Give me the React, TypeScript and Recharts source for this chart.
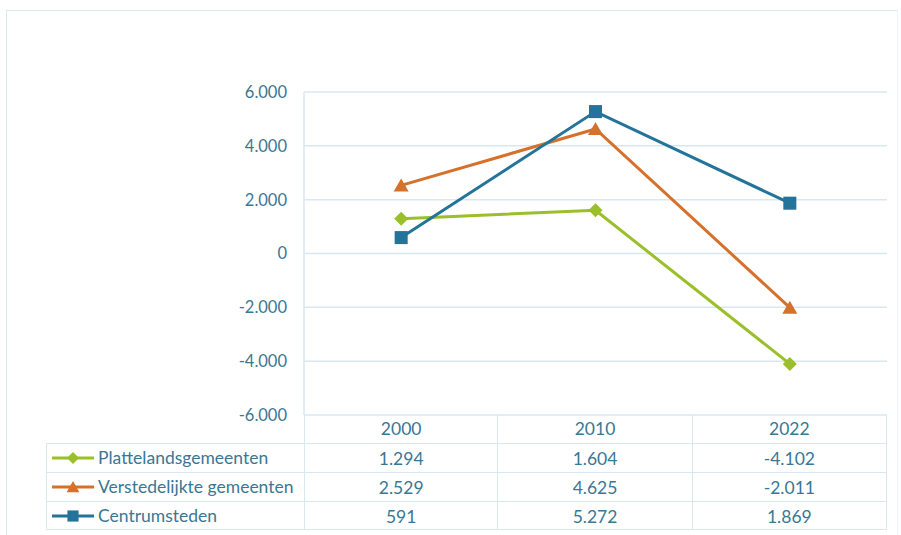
import { LineChart, Line, XAxis, YAxis, CartesianGrid } from 'recharts';

const years = ['2000', '2010', '2022'];
const platteland = [1294, 1604, -4102];
const verstedelijkt = [2529, 4625, -2011];
const centrumsteden = [591, 5272, 1869];
const yTicks = [-6000, -4000, -2000, 0, 2000, 4000, 6000];

const seriesInfo = [
  { key: 'platteland', name: 'Plattelandsgemeenten', color: '#9bbf2a', shape: 'diamond', values: platteland },
  { key: 'verstedelijkt', name: 'Verstedelijkte gemeenten', color: '#d5712b', shape: 'triangle', values: verstedelijkt },
  { key: 'centrum', name: 'Centrumsteden', color: '#23739a', shape: 'square', values: centrumsteden },
];

const chartData = years.map((year, i) => ({
  year,
  platteland: platteland[i],
  verstedelijkt: verstedelijkt[i],
  centrum: centrumsteden[i],
}));

const TEXT = '#3a7793';
const GRID = '#d9e8f0';
const FONT = 'Lato, "Open Sans", sans-serif';
const TABLE_FONT = 17.5;

// dutch style thousands separator
const fmt = (v: number) => {
  const s = Math.abs(v).toString().replace(/\B(?=(\d{3})+(?!\d))/g, '.');
  return v < 0 ? '-' + s : s;
};

const Marker = ({ shape, color, cx, cy, r = 7 }: { shape: string; color: string; cx: number; cy: number; r?: number }) => {
  if (shape === 'diamond') {
    return <path d={`M${cx},${cy - r}L${cx + r},${cy}L${cx},${cy + r}L${cx - r},${cy}Z`} fill={color} />;
  }
  if (shape === 'triangle') {
    return <path d={`M${cx},${cy - r}L${cx + r * 1.07},${cy + r * 0.86}L${cx - r * 1.07},${cy + r * 0.86}Z`} fill={color} />;
  }
  return <rect x={cx - r * 0.93} y={cy - r * 0.93} width={r * 1.86} height={r * 1.86} fill={color} />;
};

const makeDot = (shape: string, color: string) => (props: any) => {
  const { cx, cy, index } = props;
  if (cx == null || cy == null) return <g key={index} />;
  return (
    <g key={`${shape}-${index}`}>
      <Marker shape={shape} color={color} cx={cx} cy={cy} />
    </g>
  );
};

const PLOT_LEFT = 304;
const PLOT_RIGHT = 887;
const COL_W = (PLOT_RIGHT - PLOT_LEFT) / 3;
const TABLE_TOP = 415;
const HEADER_H = 28;
const ROW_H = 29;

const cell = (left: number, top: number, width: number, height: number, extra: any = {}) => ({
  position: 'absolute' as const,
  left,
  top,
  width,
  height,
  lineHeight: `${height}px`,
  textAlign: 'center' as const,
  ...extra,
});

const App = () => {
  return (
    <div style={{ position: 'fixed', left: 0, top: 0, width: 901, height: 535, background: '#fff', fontFamily: FONT, overflow: 'hidden' }}>
      <div style={{ position: 'absolute', left: 6, top: 10, width: 890, height: 540, borderTop: `1px solid ${GRID}`, borderLeft: `1px solid ${GRID}`, borderRight: `1px solid #eef5f9` }} />
      <LineChart width={901} height={535} data={chartData} margin={{ top: 92, right: 14, bottom: 120, left: 0 }}>
        <CartesianGrid vertical={false} stroke={GRID} strokeWidth={1.5} />
        <XAxis dataKey="year" hide padding={{ left: COL_W / 2, right: COL_W / 2 }} />
        <YAxis
          width={PLOT_LEFT}
          domain={[-6000, 6000]}
          ticks={yTicks}
          tickFormatter={fmt}
          axisLine={{ stroke: GRID, strokeWidth: 1.5 }}
          tickLine={false}
          tickMargin={11}
          tick={{ fill: TEXT, fontSize: 16.5, fontFamily: FONT }}
        />
        {seriesInfo.map((s) => (
          <Line
            key={s.key}
            dataKey={s.key}
            name={s.name}
            stroke={s.color}
            strokeWidth={3}
            dot={makeDot(s.shape, s.color)}
            activeDot={false}
            isAnimationActive={false}
          />
        ))}
      </LineChart>

      {/* data table under the plot */}
      {years.map((y, i) => (
        <div
          key={y}
          style={cell(PLOT_LEFT + i * COL_W, TABLE_TOP, COL_W, HEADER_H, {
            color: TEXT,
            fontSize: TABLE_FONT,
            borderRight: `1.5px solid ${GRID}`,
            borderLeft: i === 0 ? `1.5px solid ${GRID}` : undefined,
            boxSizing: 'border-box',
          })}
        >
          {y}
        </div>
      ))}
      {seriesInfo.map((s, r) => {
        const top = TABLE_TOP + HEADER_H + r * ROW_H;
        return (
          <div key={s.key}>
            <div
              style={cell(46, top, PLOT_LEFT - 46, ROW_H, {
                textAlign: 'left',
                color: TEXT,
                fontSize: TABLE_FONT,
                borderTop: `1.5px solid ${GRID}`,
                borderLeft: `1.5px solid ${GRID}`,
                borderBottom: r === 2 ? `1.5px solid ${GRID}` : undefined,
                boxSizing: 'border-box',
                whiteSpace: 'nowrap',
              })}
            >
              <svg width={46} height={16} style={{ position: 'absolute', left: 5, top: (ROW_H - 16) / 2 - 1 }}>
                <line x1={0} y1={8} x2={42} y2={8} stroke={s.color} strokeWidth={3} />
                <Marker shape={s.shape} color={s.color} cx={21} cy={8} r={6} />
              </svg>
              <span style={{ position: 'absolute', left: 51, top: -1 }}>{s.name}</span>
            </div>
            {s.values.map((v, i) => (
              <div
                key={i}
                style={cell(PLOT_LEFT + i * COL_W, top, COL_W, ROW_H, {
                  color: TEXT,
                  fontSize: TABLE_FONT,
                  borderTop: `1.5px solid ${GRID}`,
                  borderRight: `1.5px solid ${GRID}`,
                  borderLeft: i === 0 ? `1.5px solid ${GRID}` : undefined,
                  borderBottom: r === 2 ? `1.5px solid ${GRID}` : undefined,
                  boxSizing: 'border-box',
                })}
              >
                {fmt(v)}
              </div>
            ))}
          </div>
        );
      })}
    </div>
  );
};

export default App;
